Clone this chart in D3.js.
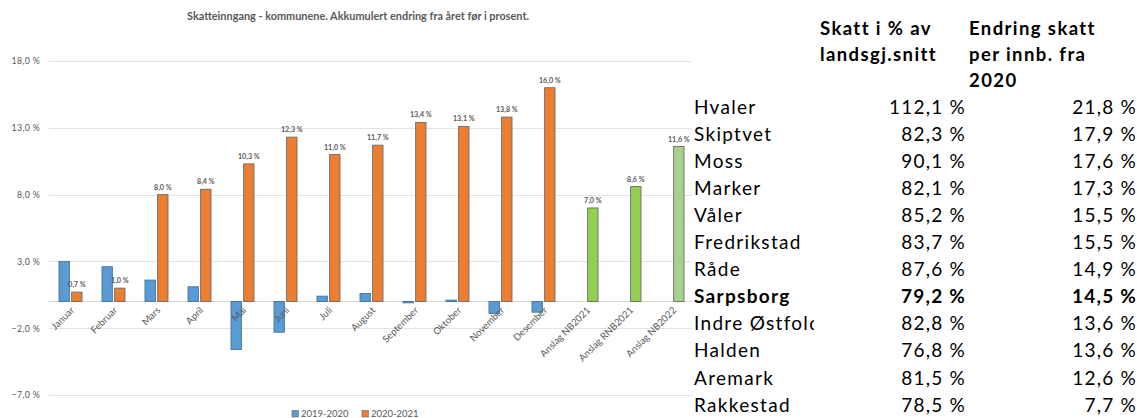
<!DOCTYPE html>
<html>
<head>
<meta charset="utf-8">
<script src="https://cdn.jsdelivr.net/npm/d3@7"></script>
<style>
  html, body { margin: 0; padding: 0; background: #fff; }
  svg { display: block; }
</style>
</head>
<body>
<svg id="chart" width="1137" height="418"></svg>
<script>
// ---------- DATA ----------
const title = "Skatteinngang - kommunene. Akkumulert endring fra året før i prosent.";
const categories = ["Januar", "Februar", "Mars", "April", "Mai", "Juni", "Juli", "August",
  "September", "Oktober", "November", "Desember", "Anslag NB2021", "Anslag RNB2021", "Anslag NB2022"];
const seriesNames = ["2019-2020", "2020-2021"];
const values2019 = [3.0, 2.6, 1.6, 1.1, -3.6, -2.3, 0.4, 0.6, -0.1, 0.1, -0.9, -0.8, null, null, null];
const values2020 = [0.7, 1.0, 8.0, 8.4, 10.3, 12.3, 11.0, 11.7, 13.4, 13.1, 13.8, 16.0, 7.0, 8.6, 11.6];
const yTicks = [-7, -2, 3, 8, 13, 18];

const tableHeaders = [["Skatt i % av", "landsgj.snitt"], ["Endring skatt", "per innb. fra", "2020"]];
const municipalities = ["Hvaler", "Skiptvet", "Moss", "Marker", "Våler", "Fredrikstad", "Råde",
  "Sarpsborg", "Indre Østfold", "Halden", "Aremark", "Rakkestad"];
const skattPct = [112.1, 82.3, 90.1, 82.1, 85.2, 83.7, 87.6, 79.2, 82.8, 76.8, 81.5, 78.5];
const endringPct = [21.8, 17.9, 17.6, 17.3, 15.5, 15.5, 14.9, 14.5, 13.6, 13.6, 12.6, 7.7];
const highlighted = "Sarpsborg";

// ---------- STYLE ----------
const blue = "#5B9BD5", orange = "#ED7D31", green = "#92D050", lightGreen = "#A9D18E";
const textGray = "#595959";
const chartFont = "Lato, 'Open Sans', sans-serif";
const tableFont = "Lato, 'Open Sans', sans-serif";

const svg = d3.select("#chart");
svg.append("rect").attr("width", 1137).attr("height", 418).attr("fill", "#fff");

const fmt = v => d3.format(".1f")(v).replace(".", ",") + " %";

// ---------- CHART ----------
const x = d3.scaleBand().domain(categories).range([49, 694]).paddingInner(0).paddingOuter(0);
const y = d3.scaleLinear().domain([-7, 18]).range([395, 61]);
const x1 = d3.scaleBand().domain(seriesNames).range([-11.5, 11.5]).paddingInner(0.18);

// gridlines
svg.append("g").selectAll("line").data(yTicks).join("line")
  .attr("x1", 49).attr("x2", 692)
  .attr("y1", d => Math.round(y(d)) + 0.5).attr("y2", d => Math.round(y(d)) + 0.5)
  .attr("stroke", "#e3e3e3").attr("stroke-width", 1.2);
// zero line
svg.append("line").attr("x1", 49).attr("x2", 692)
  .attr("y1", Math.round(y(0)) + 0.5).attr("y2", Math.round(y(0)) + 0.5)
  .attr("stroke", "#d9d9d9").attr("stroke-width", 1.2);

// y axis labels
const yAxis = d3.axisLeft(y).tickValues(yTicks).tickFormat(fmt).tickSize(0).tickPadding(0);
const yg = svg.append("g").attr("transform", "translate(40,0)").call(yAxis);
yg.select(".domain").remove();
yg.selectAll("text").attr("font-family", chartFont).attr("font-size", 8.8)
  .attr("letter-spacing", 0.3).attr("fill", textGray);

// title
svg.append("text").attr("x", 358).attr("y", 20).attr("text-anchor", "middle")
  .attr("font-family", chartFont).attr("font-size", 10.9).attr("font-weight", "bold")
  .attr("fill", textGray).text(title);

function barColor2020(i) { return i < 12 ? orange : (i < 14 ? green : lightGreen); }

// series 2019-2020
svg.append("g").selectAll("rect")
  .data(values2019.map((v, i) => ({ v, c: categories[i] })).filter(d => d.v !== null))
  .join("rect")
  .attr("x", d => x(d.c) + x.bandwidth() / 2 + x1(seriesNames[0]))
  .attr("width", x1.bandwidth())
  .attr("y", d => Math.min(y(d.v), y(0)))
  .attr("height", d => Math.max(0.8, Math.abs(y(d.v) - y(0))))
  .attr("fill", blue).attr("stroke", "#41719C").attr("stroke-width", 0.9);

// series 2020-2021
svg.append("g").selectAll("rect")
  .data(values2020.map((v, i) => ({ v, c: categories[i], i })))
  .join("rect")
  .attr("x", d => x(d.c) + x.bandwidth() / 2 + x1(seriesNames[1]))
  .attr("width", x1.bandwidth())
  .attr("y", d => Math.min(y(d.v), y(0)))
  .attr("height", d => Math.abs(y(d.v) - y(0)))
  .attr("fill", d => barColor2020(d.i)).attr("stroke", "#6b6b6b").attr("stroke-width", 0.9);

// data labels
svg.append("g").selectAll("text")
  .data(values2020.map((v, i) => ({ v, c: categories[i] })))
  .join("text")
  .attr("x", d => x(d.c) + x.bandwidth() / 2 + x1(seriesNames[1]) + x1.bandwidth() / 2)
  .attr("y", d => y(d.v) - 5)
  .attr("text-anchor", "middle")
  .attr("font-family", chartFont).attr("font-size", 7.2).attr("font-weight", "bold")
  .attr("fill", textGray).text(d => fmt(d.v));

// x labels rotated
svg.append("g").selectAll("text").data(categories).join("text")
  .attr("transform", d => `translate(${x(d) + x.bandwidth() / 2 + 2},${y(0) + 7}) rotate(-45)`)
  .attr("text-anchor", "end")
  .attr("dy", "0.35em")
  .attr("font-family", chartFont).attr("font-size", 9.6)
  .attr("fill", textGray).text(d => d);

// legend
const legend = svg.append("g").attr("transform", "translate(292,414)");
const legX = [0, 70];
seriesNames.forEach((n, i) => {
  const g = legend.append("g").attr("transform", `translate(${legX[i]},0)`);
  g.append("rect").attr("x", 0).attr("y", -3.5).attr("width", 6.5).attr("height", 6.5)
    .attr("fill", i === 0 ? blue : orange).attr("stroke", "#6b6b6b").attr("stroke-width", 0.6);
  g.append("text").attr("x", 9).attr("y", 0).attr("dy", "0.35em")
    .attr("font-family", chartFont).attr("font-size", 9.5).attr("fill", textGray).text(n);
});

// ---------- TABLE ----------
const table = svg.append("g");
const headerX = [820, 969];
tableHeaders.forEach((lines, c) => {
  lines.forEach((l, j) => {
    table.append("text").attr("x", headerX[c]).attr("y", 29 + j * 26).attr("dy", "0.35em")
      .attr("font-family", tableFont).attr("font-size", 18.5).attr("font-weight", "bold")
      .attr("letter-spacing", 1.4)
      .attr("fill", "#000").text(l);
  });
});

const rowY = d3.scaleLinear().domain([0, municipalities.length - 1]).range([107, 405]);
const clipRect = svg.append("defs").append("clipPath").attr("id", "nameclip")
  .attr("clipPathUnits", "userSpaceOnUse")
  .append("rect").attr("x", 690).attr("y", 0).attr("width", 137).attr("height", 418);

const cellStyle = sel => sel
  .attr("font-family", tableFont).attr("font-size", 19)
  .attr("font-weight", d => d === highlighted ? "bold" : "normal").attr("fill", "#000")
  .attr("dy", "0.35em");

const names = table.append("g").attr("clip-path", "url(#nameclip)")
  .selectAll("text").data(municipalities).join("text")
  .attr("x", 694).attr("y", (d, i) => rowY(i))
  .call(cellStyle).attr("letter-spacing", 1.3).text(d => d);
// the name column is narrower than the longest name: it cuts into its last letter
const longest = d3.max(names.nodes(), n => n.getComputedTextLength());
clipRect.attr("width", 694 - 690 + longest - 7);

table.append("g").selectAll("text").data(municipalities).join("text")
  .attr("x", 966).attr("y", (d, i) => rowY(i)).attr("text-anchor", "end")
  .call(cellStyle).attr("letter-spacing", 1.2).text((d, i) => fmt(skattPct[i]));
table.append("g").selectAll("text").data(municipalities).join("text")
  .attr("x", 1137).attr("y", (d, i) => rowY(i)).attr("text-anchor", "end")
  .call(cellStyle).attr("letter-spacing", 1.2).text((d, i) => fmt(endringPct[i]));
</script>
</body>
</html>
